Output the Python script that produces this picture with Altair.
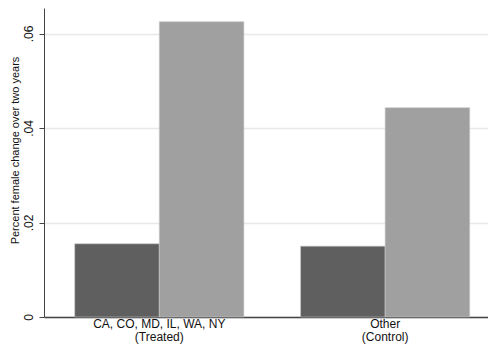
import altair as alt
import pandas as pd

groups = ["CA, CO, MD, IL, WA, NY|(Treated)", "Other|(Control)"]
series = ["Series 1", "Series 2"]
values_dark = [0.0155, 0.0150]
values_light = [0.0625, 0.0443]
y_ticks = [0, 0.02, 0.04, 0.06]

rows = []
for g, d, l in zip(groups, values_dark, values_light):
    rows.append({"group": g, "series": series[0], "value": d})
    rows.append({"group": g, "series": series[1], "value": l})
df = pd.DataFrame(rows)

font = "Liberation Sans"

chart = alt.Chart(df).mark_bar(stroke="#c8c8c8", strokeWidth=0.6).encode(
    x=alt.X("group:N", sort=groups, title=None,
            scale=alt.Scale(paddingInner=0.251, paddingOuter=0.1085, align=0.627),
            axis=alt.Axis(labelAngle=0, labelExpr="split(datum.label, '|')",
                          ticks=False, domain=True, domainColor="#444444", domainWidth=1.5,
                          labelFont=font, labelFontSize=12, labelColor="#111111",
                          labelPadding=1, labelLineHeight=13)),
    xOffset=alt.XOffset("series:N", sort=series),
    y=alt.Y("value:Q", title="Percent female change over two years",
            scale=alt.Scale(domain=[0, 0.0654], nice=False, zero=True),
            axis=alt.Axis(values=y_ticks,
                          labelExpr="datum.value == 0 ? '0' : substring(format(datum.value, '.2f'), 1)",
                          labelAngle=270, labelAlign="center", labelBaseline="bottom",
                          labelPadding=4, tickSize=5, tickColor="#444444", tickWidth=1,
                          domainColor="#444444", domainWidth=1,
                          grid=True, gridColor="#e8e8e8", gridWidth=1.5,
                          labelFont=font, labelFontSize=12, labelColor="#111111",
                          titleFont=font, titleFontSize=11, titleFontWeight="normal",
                          titleColor="#111111", titleAngle=270, titleX=-29, titleY=142,
                          titleAlign="center", titleBaseline="middle")),
    color=alt.Color("series:N", sort=series,
                    scale=alt.Scale(domain=series, range=["#5f5f5f", "#a0a0a0"]),
                    legend=None),
).properties(
    width=444, height=309,
    autosize=alt.AutoSizeParams(type="none"),
    padding={"left": 36, "top": 0, "right": 0, "bottom": 28},
).configure_view(stroke=None).configure_axis(gridCap="butt")

chart.save("out.html", embed_options={"renderer": "svg", "actions": False})
